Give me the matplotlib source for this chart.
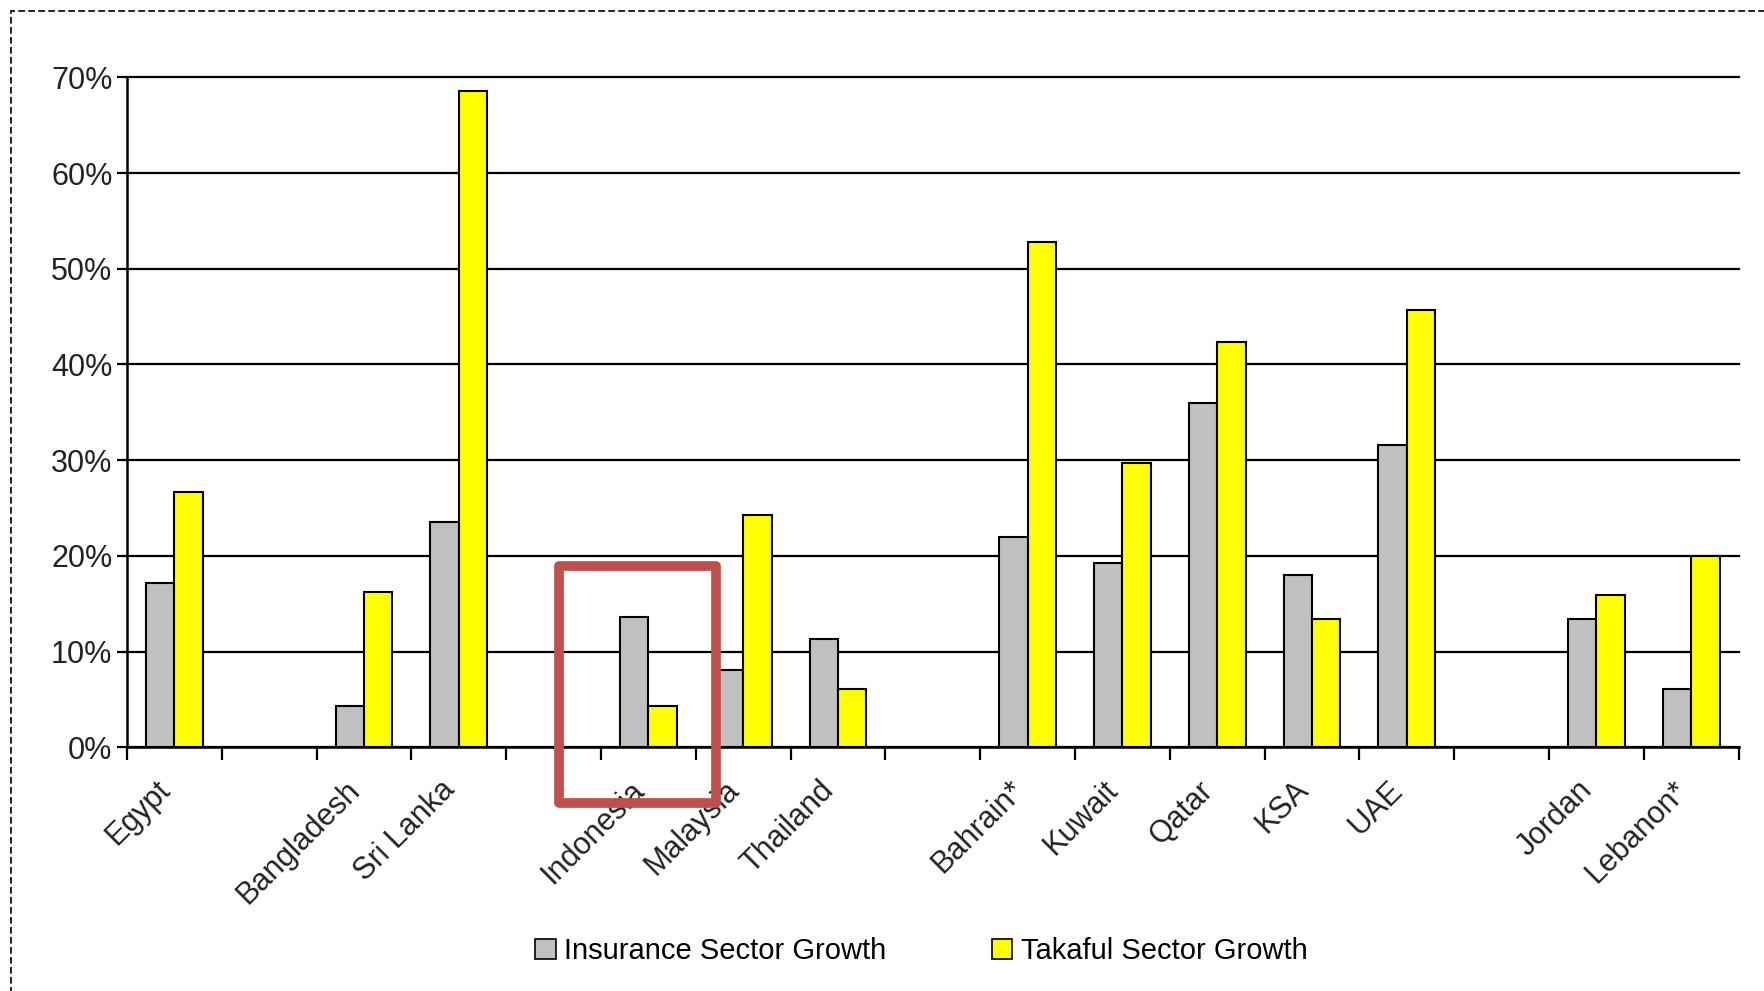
import matplotlib.pyplot as plt
import matplotlib.patches as patches
import matplotlib.ticker as ticker
import numpy as np

plt.rcParams['font.family'] = ['Liberation Sans', 'DejaVu Sans']

# slots along the x axis, '' = empty slot between regions
countries = ['Egypt', '', 'Bangladesh', 'Sri Lanka', '', 'Indonesia', 'Malaysia',
             'Thailand', '', 'Bahrain*', 'Kuwait', 'Qatar', 'KSA', 'UAE', '',
             'Jordan', 'Lebanon*']
insurance = [17.2, None, 4.3, 23.5, None, 13.6, 8.1, 11.3, None, 22.0, 19.2,
             36.0, 18.0, 31.6, None, 13.4, 6.1]
takaful = [26.7, None, 16.2, 68.6, None, 4.3, 24.3, 6.1, None, 52.8, 29.7,
           42.3, 13.4, 45.7, None, 15.9, 20.0]
yticks = [0, 10, 20, 30, 40, 50, 60, 70]
highlight = 'Indonesia'

fig = plt.figure(figsize=(17.65, 9.91), dpi=100)
ax = fig.add_axes([0.072, 0.246, 0.913, 0.676])

idx = [i for i, c in enumerate(countries) if c]
x = np.array(idx, dtype=float)
ins = [insurance[i] for i in idx]
tak = [takaful[i] for i in idx]
w = 0.3

ax.bar(x - w / 2, ins, w, color='#c0c0c0', edgecolor='black', linewidth=1.5,
       label='Insurance Sector Growth', zorder=3)
ax.bar(x + w / 2, tak, w, color='#ffff00', edgecolor='black', linewidth=1.5,
       label='Takaful Sector Growth', zorder=3)

ax.set_xlim(-0.5, len(countries) - 0.5)
ax.set_ylim(0, 70)
ax.set_yticks(yticks)
ax.yaxis.set_major_formatter(ticker.FuncFormatter(lambda v, p: '%d%%' % v))
ax.grid(axis='y', color='black', linewidth=1.6, zorder=1)
ax.set_axisbelow(True)
for gl in ax.get_ygridlines():
    gl.set_clip_on(False)

# ticks at slot boundaries, labels just left of slot centres
ax.set_xticks(np.arange(-0.5, len(countries)), minor=False)
ax.set_xticklabels([])
ax.set_xticks(x - 0.2, minor=True)
ax.set_xticklabels([countries[i] for i in idx], minor=True, rotation=45,
                   ha='right', va='top', rotation_mode='anchor', fontsize=22,
                   color='#222222')
ax.tick_params(axis='x', which='minor', length=0, pad=20)
ax.tick_params(axis='x', which='major', length=9, width=1.6, direction='out')
ax.tick_params(axis='y', length=7, width=1.6, labelsize=22, labelcolor='#222222')

for s in ['top', 'right']:
    ax.spines[s].set_visible(False)
for s in ['left', 'bottom']:
    ax.spines[s].set_linewidth(1.8)
    ax.spines[s].set_color('black')

# red highlight box around Indonesia
hx = countries.index(highlight)
box = patches.Rectangle((hx - 0.94, -5.8), 1.65, 24.7, fill=False,
                        edgecolor='#c0504d', linewidth=7, clip_on=False,
                        zorder=5, joinstyle='round')
ax.add_patch(box)

leg = fig.legend(loc='center', bbox_to_anchor=(0.522, 0.04), ncol=2,
                 frameon=False, fontsize=21, handlelength=0.7, handleheight=0.7,
                 handletextpad=0.3, columnspacing=3.6)
for h in leg.legend_handles:
    h.set_linewidth(1.2)

# dashed frame around the whole figure
frame = patches.Rectangle((0.006, -0.05), 1.1, 1.039, transform=fig.transFigure,
                          fill=False, edgecolor='black', linewidth=1.2,
                          linestyle=(0, (4, 2)))
fig.add_artist(frame)

fig.savefig('out.png', dpi=100)
